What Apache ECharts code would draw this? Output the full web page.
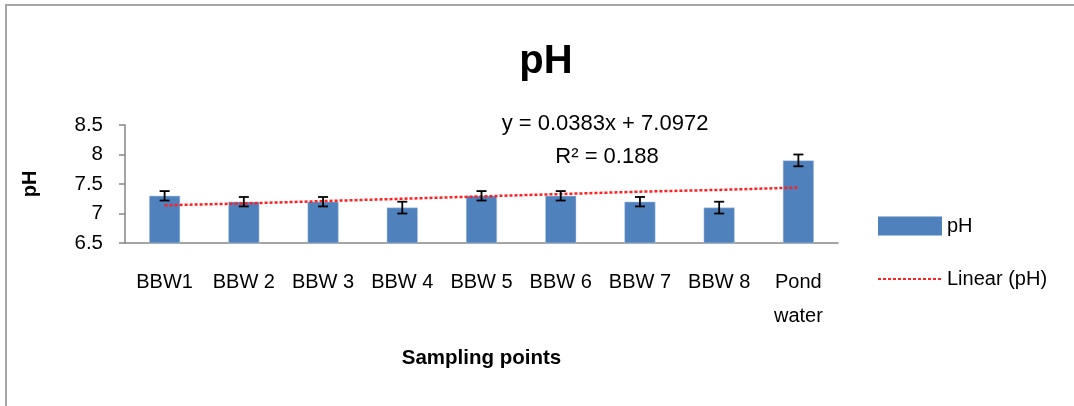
<!DOCTYPE html>
<html>
<head>
<meta charset="utf-8">
<script src="https://cdn.jsdelivr.net/npm/echarts@6/dist/echarts.min.js"></script>
<style>
  html, body { margin: 0; padding: 0; background: #fff; }
  #frame { position: absolute; left: 5px; top: 4px; width: 1069px; height: 402px;
           border-top: 2px solid #a6a6a6; border-left: 2px solid #a6a6a6; box-sizing: border-box; }
  #chart { position: absolute; left: 0; top: 0; width: 1074px; height: 406px; }
</style>
</head>
<body>
<div id="frame"></div>
<div id="chart"></div>
<script>
// --- data ---
const categories = ["BBW1", "BBW 2", "BBW 3", "BBW 4", "BBW 5", "BBW 6", "BBW 7", "BBW 8", "Pond\nwater"];
const phValues = [7.3, 7.2, 7.2, 7.1, 7.3, 7.3, 7.2, 7.1, 7.9];
const phErrors = [0.08, 0.08, 0.08, 0.1, 0.08, 0.08, 0.08, 0.1, 0.1];
const trendValues = [7.14, 7.17, 7.21, 7.25, 7.29, 7.33, 7.37, 7.40, 7.44];
const yTicks = [6.5, 7, 7.5, 8, 8.5];
const equationText = "y = 0.0383x + 7.0972";
const r2Text = "R\u00B2 = 0.188";

const font = "'Liberation Sans', Arial, sans-serif";
const chart = echarts.init(document.getElementById("chart"));

const errorData = phValues.map((v, i) => [i, v - phErrors[i], v + phErrors[i]]);

chart.setOption({
  animation: false,
  textStyle: { fontFamily: font },
  title: {
    text: "pH", left: 541, top: 37, textAlign: "center",
    textStyle: { fontSize: 40, fontWeight: "bold", color: "#000", fontFamily: font }
  },
  grid: { left: 125, right: 236, top: 125, bottom: 163 },
  legend: {
    orient: "vertical", left: 872, top: 211, itemGap: 33,
    itemWidth: 64, itemHeight: 19,
    textStyle: { fontSize: 20, color: "#000", fontFamily: font },
    data: [
      { name: "pH", icon: "rect", itemStyle: { borderWidth: 0 } },
      { name: "Linear (pH)", itemStyle: { opacity: 0 } }
    ]
  },
  xAxis: {
    type: "category", data: categories,
    name: "Sampling points", nameLocation: "middle", nameGap: 105,
    nameTextStyle: { fontSize: 20.5, fontWeight: "bold", color: "#000", fontFamily: font },
    axisLine: { lineStyle: { color: "#868686", width: 1.5 } },
    axisTick: { show: false },
    axisLabel: { fontSize: 20, color: "#000", margin: 22, lineHeight: 34.5, interval: 0, fontFamily: font }
  },
  yAxis: {
    type: "value", min: yTicks[0], max: yTicks[yTicks.length - 1], interval: 0.5,
    name: "pH", nameLocation: "middle", nameGap: 85, nameRotate: 90,
    nameTextStyle: { fontSize: 20, fontWeight: "bold", color: "#000", fontFamily: font },
    splitLine: { show: false },
    axisLine: { show: true, lineStyle: { color: "#868686", width: 1.5 } },
    axisTick: { show: true, length: 6, lineStyle: { color: "#868686", width: 1.5 } },
    axisLabel: { fontSize: 20.5, color: "#000", margin: 22, fontFamily: font }
  },
  series: [
    {
      name: "pH", type: "bar", data: phValues, barWidth: 31,
      itemStyle: { color: "#4f81bd", borderColor: "#b9cde5", borderWidth: 0.5 }
    },
    {
      name: "Linear (pH)", type: "line", data: trendValues, symbol: "none", z: 5,
      lineStyle: { color: "#ff2020", width: 2.5, type: [3, 2] },
      itemStyle: { color: "#ff2020" }
    },
    {
      type: "custom", name: "error", data: errorData, z: 6,
      renderItem: function (params, api) {
        const x = api.value(0);
        const lo = api.coord([x, api.value(1)]);
        const hi = api.coord([x, api.value(2)]);
        const hw = 5;
        const style = { stroke: "#000", lineWidth: 1.8 };
        return {
          type: "group",
          children: [
            { type: "line", shape: { x1: lo[0], y1: lo[1], x2: hi[0], y2: hi[1] }, style: style },
            { type: "line", shape: { x1: lo[0] - hw, y1: lo[1], x2: lo[0] + hw, y2: lo[1] }, style: style },
            { type: "line", shape: { x1: hi[0] - hw, y1: hi[1], x2: hi[0] + hw, y2: hi[1] }, style: style }
          ]
        };
      }
    }
  ],
  graphic: [
    { type: "text", x: 605, y: 113,
      style: { text: equationText, fontSize: 22, fill: "#000", fontFamily: font, align: "center" } },
    { type: "text", x: 607, y: 146,
      style: { text: r2Text, fontSize: 22, fill: "#000", fontFamily: font, align: "center" } }
  ]
});
</script>
</body>
</html>
